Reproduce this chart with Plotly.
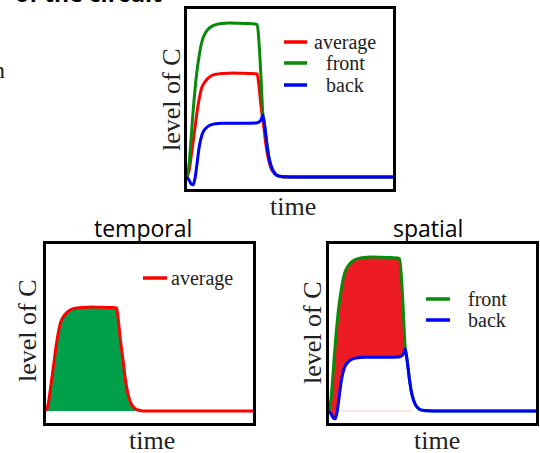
import plotly.graph_objects as go

# ---------------- data ----------------
time = [0, 1, 2, 3, 4, 5, 6, 7, 8, 10, 12, 14, 17, 20, 25, 30, 33, 34, 35, 36,
        36.8, 37.5, 38, 39, 40, 41, 42, 43, 44, 46, 48, 50, 60, 70, 80, 90, 100]

front = [0.0, 0.08, 0.25, 0.43, 0.58, 0.70, 0.79, 0.86, 0.905, 0.95, 0.972, 0.983, 0.99, 0.993,
         0.992, 0.99, 0.987, 0.983, 0.86, 0.62,
         0.41, 0.35, 0.30, 0.19, 0.11, 0.065, 0.035, 0.018, 0.009, 0.003, 0.001, 0.0, 0.0, 0.0, 0.0, 0.0, 0.0]

back = [0.0, -0.02, -0.045, -0.05, 0.0, 0.10, 0.20, 0.26, 0.295, 0.325, 0.338, 0.343, 0.346, 0.347,
        0.347, 0.347, 0.348, 0.35, 0.355, 0.37,
        0.40, 0.35, 0.30, 0.19, 0.11, 0.065, 0.035, 0.018, 0.009, 0.003, 0.001, 0.0, 0.0, 0.0, 0.0, 0.0, 0.0]

average = [0.0, 0.04, 0.13, 0.23, 0.33, 0.43, 0.51, 0.57, 0.60, 0.635, 0.655, 0.663, 0.668, 0.67,
           0.67, 0.668, 0.667, 0.665, 0.58, 0.45,
           0.37, 0.30, 0.24, 0.15, 0.09, 0.05, 0.03, 0.015, 0.008, 0.002, 0.0, 0.0, 0.0, 0.0, 0.0, 0.0, 0.0]

baseline_t = [1, 40]
baseline_v = [0, 0]

series_names = ["average", "front", "back"]
panel_titles = ["temporal", "spatial"]
x_label = "time"
y_label = "level of C"

# ---------------- styles ----------------
RED = "#ff0000"
GREEN = "#0a8a0a"
BLUE = "#0000ff"
FILL_GREEN = "#00a04b"
FILL_RED = "#ed1c24"
SERIF = "Liberation Serif"
SANS = "Open Sans"
W, H = 540, 453


def px(x):
    return x / W


def py(y):
    return 1 - y / H


fig = go.Figure()

# panel domains (pixels): top, bottom-left, bottom-right
panels = {
    "": (187, 393, 9, 189),
    "2": (46, 253, 244, 423),
    "3": (329, 536, 244, 423),
}
yr = [-0.0774, 1.0839]
for k, (x0, x1, y0, y1) in panels.items():
    ax = dict(domain=[px(x0), px(x1)], range=[0, 100], showgrid=False, zeroline=False,
              showticklabels=False, ticks="", showline=True, mirror=True,
              linecolor="black", linewidth=3)
    ay = dict(domain=[py(y1), py(y0)], range=yr if k == "" else [-0.0774, 1.0774],
              showgrid=False, zeroline=False, showticklabels=False, ticks="",
              showline=True, mirror=True, linecolor="black", linewidth=3)
    fig.update_layout(**{"xaxis" + k: dict(ax, anchor="y" + k), "yaxis" + k: dict(ay, anchor="x" + k)})

# --- top panel ---
fig.add_trace(go.Scatter(x=time, y=average, mode="lines", line=dict(color=RED, width=3, shape="spline", smoothing=0.6),
                         xaxis="x", yaxis="y"))
fig.add_trace(go.Scatter(x=time, y=front, mode="lines", line=dict(color=GREEN, width=3, shape="spline", smoothing=0.6),
                         xaxis="x", yaxis="y"))
fig.add_trace(go.Scatter(x=time, y=back, mode="lines", line=dict(color=BLUE, width=3, shape="spline", smoothing=0.6),
                         xaxis="x", yaxis="y"))

# --- temporal panel ---
fig.add_trace(go.Scatter(x=time, y=average, mode="lines", fill="tozeroy", fillcolor=FILL_GREEN,
                         line=dict(color=RED, width=3, shape="spline", smoothing=0.6),
                         xaxis="x2", yaxis="y2"))

# --- spatial panel ---
fig.add_trace(go.Scatter(x=time, y=back, mode="lines", line=dict(width=0, shape="spline", smoothing=0.6),
                         xaxis="x3", yaxis="y3"))
fig.add_trace(go.Scatter(x=time, y=front, mode="lines", fill="tonexty", fillcolor=FILL_RED,
                         line=dict(width=0, shape="spline", smoothing=0.6), xaxis="x3", yaxis="y3"))
fig.add_trace(go.Scatter(x=baseline_t, y=baseline_v, mode="lines", line=dict(color="rgba(240,120,120,0.35)", width=1),
                         xaxis="x3", yaxis="y3"))
fig.add_trace(go.Scatter(x=time, y=front, mode="lines", line=dict(color=GREEN, width=3, shape="spline", smoothing=0.6),
                         xaxis="x3", yaxis="y3"))
fig.add_trace(go.Scatter(x=time, y=back, mode="lines", line=dict(color=BLUE, width=3, shape="spline", smoothing=0.6),
                         xaxis="x3", yaxis="y3"))

shapes = []
ann = []


def legend_item(x0, x1, yline, color, text, tx, anchor="center"):
    shapes.append(dict(type="line", xref="paper", yref="paper", x0=px(x0), x1=px(x1),
                       y0=py(yline), y1=py(yline), line=dict(color=color, width=3.5)))
    ann.append(dict(x=px(tx), y=py(yline), xref="paper", yref="paper", text=text, showarrow=False,
                    xanchor=anchor, yanchor="middle", font=dict(family=SERIF, size=20, color="#222")))


# top legend
legend_item(284, 307, 42, RED, series_names[0], 345)
legend_item(284, 307, 63, GREEN, series_names[1], 345)
legend_item(284, 307, 85, BLUE, series_names[2], 345)
# temporal legend
legend_item(143, 167, 278, RED, series_names[0], 169, "left")
# spatial legend
legend_item(426, 450, 299, GREEN, series_names[1], 487)
legend_item(426, 450, 320, BLUE, series_names[2], 487)


def label(x, y, text, size=26, family=SERIF, angle=0, color="#222"):
    ann.append(dict(x=px(x), y=py(y), xref="paper", yref="paper", text=text, showarrow=False,
                    xanchor="center", yanchor="middle", textangle=angle,
                    font=dict(family=family, size=size, color=color)))


# axis labels
label(293, 206, x_label)
label(152, 440, x_label)
label(437, 440, x_label)
label(171, 100, y_label, angle=-90)
label(27, 331, y_label, angle=-90)
label(312, 332, y_label, angle=-90)
# panel titles
label(143, 228, panel_titles[0], size=23, family=SANS, color="black")
label(428, 228, panel_titles[1], size=23, family=SANS, color="black")
# cut-off fragments from the surrounding figure
ann.append(dict(x=px(88), y=py(-7), xref="paper", yref="paper", text="<b>of the circuit</b>", showarrow=False,
                xanchor="center", yanchor="middle", font=dict(family=SANS, size=23, color="black")))
ann.append(dict(x=px(7), y=py(70), xref="paper", yref="paper", text="n", showarrow=False,
                xanchor="right", yanchor="middle", font=dict(family=SERIF, size=24, color="#222")))

fig.update_layout(width=W, height=H, margin=dict(l=0, r=0, t=0, b=0), showlegend=False,
                  paper_bgcolor="white", plot_bgcolor="white", shapes=shapes, annotations=ann)

fig.write_html("out.html")
